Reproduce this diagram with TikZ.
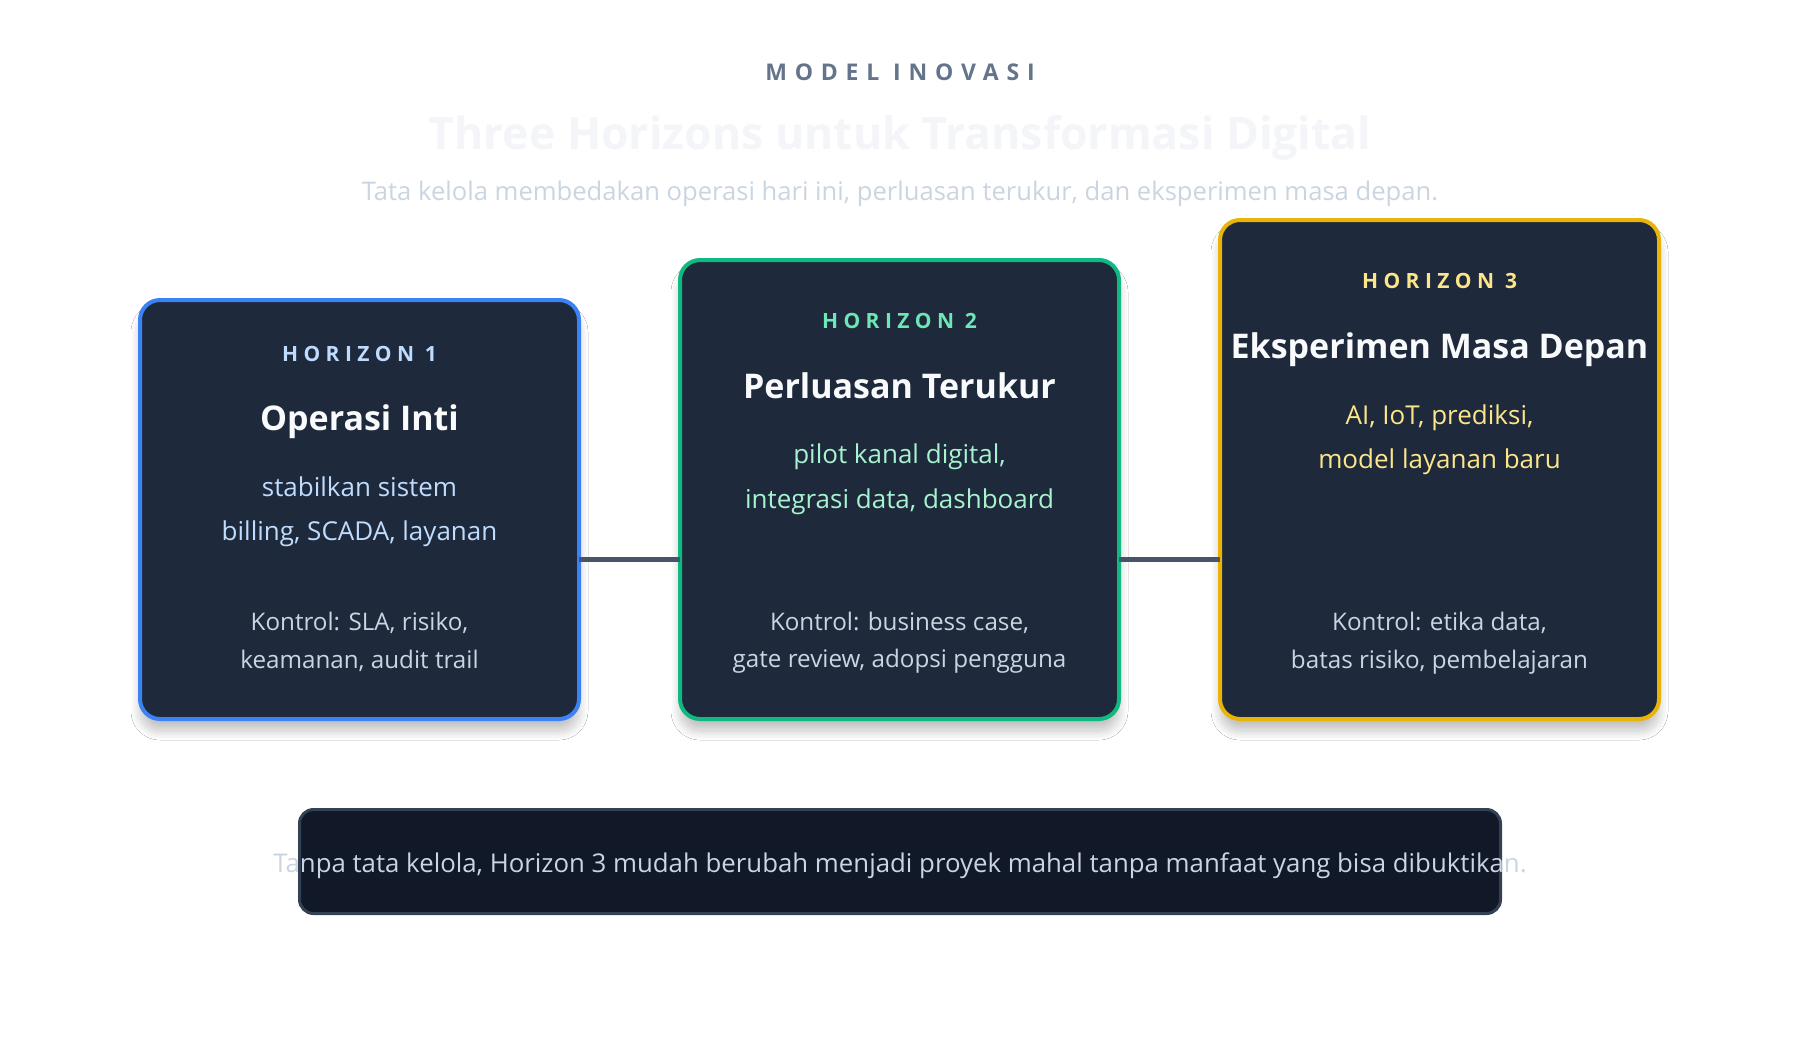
\documentclass[tikz,border=0pt]{standalone}
\usepackage{fontspec}
\setmainfont{Open Sans}
\usetikzlibrary{shadows.blur}

\definecolor{cardfill}{HTML}{1E293B}
\definecolor{noteFill}{HTML}{111827}
\definecolor{noteLine}{HTML}{334155}
\definecolor{linkLine}{HTML}{475569}
\definecolor{kickerCol}{HTML}{64748B}
\definecolor{titleCol}{HTML}{F3F5F8}
\definecolor{softText}{HTML}{CBD5E1}
\definecolor{blueLine}{HTML}{3B82F6}
\definecolor{blueTag}{HTML}{BFDBFE}
\definecolor{greenLine}{HTML}{10B981}
\definecolor{greenTag}{HTML}{6EE7B7}
\definecolor{greenText}{HTML}{A7F3D0}
\definecolor{yellowLine}{HTML}{EAB308}
\definecolor{yellowTag}{HTML}{FDE68A}
\definecolor{headWhite}{HTML}{F8FAFC}

\begin{document}
\begin{tikzpicture}[x=0.5pt,y=-0.5pt,
    card/.style={draw, line width=2pt, rounded corners=10pt, fill=cardfill, inner sep=0pt, outer sep=0pt,
        minimum width=219.5pt, anchor=south west,
        blur shadow={shadow xshift=0pt, shadow yshift=-6pt, shadow blur radius=4.5pt, shadow blur steps=16, shadow opacity=24}},
    tag/.style={anchor=base, font=\bfseries\fontsize{10.5}{12}\selectfont\addfontfeature{LetterSpace=26}},
    head/.style={anchor=base, text=headWhite, font=\bfseries\fontsize{17}{20}\selectfont},
    body/.style={anchor=base, font=\fontsize{13}{15}\selectfont},
    ctrl/.style={anchor=base, text=softText, font=\fontsize{12.1}{14}\selectfont},
    link/.style={draw=linkLine, line width=2.5pt}
]
    %set diagram size: 1800 x 1040
    \useasboundingbox[fill=white] (0,0) rectangle (1800,1040);

    % Header
    \node (kicker) at (900,80) [anchor=base, text=kickerCol, font=\bfseries\fontsize{11.5}{13}\selectfont\addfontfeature{LetterSpace=34}] {MODEL INOVASI};
    \node (title) at (900,149) [anchor=base, text=titleCol, font=\bfseries\fontsize{22.3}{26}\selectfont] {Three Horizons untuk Transformasi Digital};
    \node (subtitle) at (900,200) [anchor=base, text=softText, font=\fontsize{12.8}{15}\selectfont] {Tata kelola membedakan operasi hari ini, perluasan terukur, dan eksperimen masa depan.};

    %Shape: cards
    \node (h1) at (140,719) [card, draw=blueLine, minimum height=209.5pt] {};
    \node (h2) at (680,719) [card, draw=greenLine, minimum height=229.5pt] {};
    \node (h3) at (1220,719) [card, draw=yellowLine, minimum height=249.5pt] {};

    %Straight Lines between cards
    \draw [link] (h1.east |- 0,559) -- (h2.west |- 0,559);
    \draw [link] (h2.east |- 0,559) -- (h3.west |- 0,559);

    % Text Node: horizon 1
    \node (h1tag) at (359.5,361) [tag, text=blueTag] {HORIZON 1};
    \node (h1head) at (359.5,430) [head] {Operasi Inti};
    \node (h1a) at (359.5,496) [body, text=blueTag] {stabilkan sistem};
    \node (h1b) at (359.5,540) [body, text=blueTag] {billing, SCADA, layanan};
    \node (h1c) at (359.5,630) [ctrl] {Kontrol: SLA, risiko,};
    \node (h1d) at (359.5,668) [ctrl] {keamanan, audit trail};

    % Text Node: horizon 2
    \node (h2tag) at (899.5,328) [tag, text=greenTag] {HORIZON 2};
    \node (h2head) at (899.5,398) [head] {Perluasan Terukur};
    \node (h2a) at (899.5,463) [body, text=greenText] {pilot kanal digital,};
    \node (h2b) at (899.5,508) [body, text=greenText] {integrasi data, dashboard};
    \node (h2c) at (899.5,630) [ctrl] {Kontrol: business case,};
    \node (h2d) at (899.5,667) [ctrl] {gate review, adopsi pengguna};

    % Text Node: horizon 3
    \node (h3tag) at (1439.5,288) [tag, text=yellowTag] {HORIZON 3};
    \node (h3head) at (1439.5,358) [head] {Eksperimen Masa Depan};
    \node (h3a) at (1439.5,424) [body, text=yellowTag] {AI, IoT, prediksi,};
    \node (h3b) at (1439.5,468) [body, text=yellowTag] {model layanan baru};
    \node (h3c) at (1439.5,630) [ctrl] {Kontrol: etika data,};
    \node (h3d) at (1439.5,668) [ctrl] {batas risiko, pembelajaran};

    %Shape: note box
    \draw [draw=noteLine, fill=noteFill, line width=1.5pt, rounded corners=7pt] (299.5,809.5) rectangle (1500.5,913.5);
    \node (note) at (900,872) [anchor=base, text=softText, font=\fontsize{12.9}{15}\selectfont] {Tanpa tata kelola, Horizon 3 mudah berubah menjadi proyek mahal tanpa manfaat yang bisa dibuktikan.};

\end{tikzpicture}
\end{document}
